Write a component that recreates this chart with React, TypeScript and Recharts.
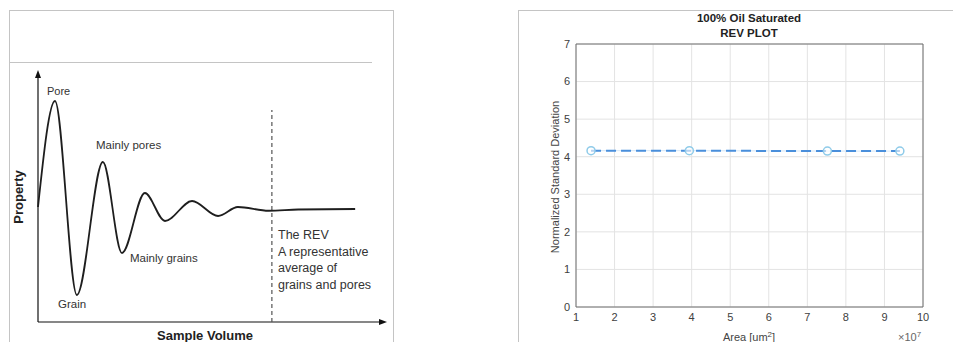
import React from "react"
import {
  LineChart,
  Line,
  XAxis,
  YAxis,
  CartesianGrid,
  ReferenceLine,
  ReferenceDot,
} from "recharts"

// left panel: schematic curve (sample volume vs property, arbitrary 0-100 units)
const SAMPLE_VOLUME = [0, 4.9, 11.2, 18.7, 24.2, 30.8, 36.6, 44.4, 51.9, 57.6, 66.5, 75, 91.4]
const PROPERTY = [46, 88.4, 10.8, 64, 27.6, 51.6, 40.4, 48.4, 42.4, 46, 44.5, 45, 45.2]
const REV_AT = 67.4

// right panel: REV plot
const AREA = [1.39, 3.94, 7.52, 9.4] // x 1e7
const NORM_STD = [4.16, 4.16, 4.15, 4.15]
const X_TICKS = [1, 2, 3, 4, 5, 6, 7, 8, 9, 10]
const Y_TICKS = [0, 1, 2, 3, 4, 5, 6, 7]

const FONT = "'Liberation Sans', Arial, sans-serif"
const TXT = "#333"
const FRAME = "#c4c4c4"
const AXIS = "#6e6e6e"

const curveData = SAMPLE_VOLUME.map((x, i) => ({ x, y: PROPERTY[i] }))
const revData = AREA.map((a, i) => ({ a, s: NORM_STD[i] }))

const ArrowUp = ({ cx, cy }: any) => (
  <path d={`M${cx},${cy - 2} L${cx - 3},${cy + 6} L${cx + 3},${cy + 6} Z`} fill="#111" />
)
const ArrowRight = ({ cx, cy }: any) => (
  <path d={`M${cx + 2},${cy} L${cx - 6},${cy - 3} L${cx - 6},${cy + 3} Z`} fill="#111" />
)

const HollowDot = ({ cx, cy }: any) => (
  <circle cx={cx} cy={cy} r={4} fill="#fff" fillOpacity={0.6} stroke="#8fcbe9" strokeWidth={1.5} />
)

const label = (text: string, left: number, top: number, extra: React.CSSProperties = {}) => (
  <div
    style={{
      position: "absolute",
      left,
      top,
      transform: "translateY(-50%)",
      fontFamily: FONT,
      fontSize: 11.5,
      color: TXT,
      whiteSpace: "nowrap",
      lineHeight: 1,
      ...extra,
    }}
  >
    {text}
  </div>
)

export default function App() {
  return (
    <div style={{ position: "absolute", left: 0, top: 0, width: 953, height: 342, background: "#fff", overflow: "hidden" }}>

      {/* Left frame */}
      <div style={{ position: "absolute", left: 9, top: 10, width: 383, height: 340, borderLeft: `1px solid ${FRAME}`, borderTop: `1px solid ${FRAME}`, borderRight: `1px solid ${FRAME}` }} />
      <div style={{ position: "absolute", left: 9, top: 62, width: 363, height: 1, background: FRAME }} />

      {/* Left schematic */}
      <div style={{ position: "absolute", left: 0, top: 0 }}>
        <LineChart width={400} height={342} data={curveData} margin={{ top: 72, left: 38, right: 15, bottom: 20 }}>
          <XAxis type="number" dataKey="x" domain={[0, 100]} hide />
          <YAxis type="number" domain={[0, 100]} hide />
          <ReferenceLine segment={[{ x: 0, y: 0 }, { x: 0, y: 98 }]} stroke="#111" strokeWidth={1.2} />
          <ReferenceLine segment={[{ x: 0, y: 0 }, { x: 98.5, y: 0 }]} stroke="#111" strokeWidth={1.2} />
          <ReferenceDot x={0} y={100} r={0} shape={<ArrowUp />} />
          <ReferenceDot x={100} y={0} r={0} shape={<ArrowRight />} />
          <ReferenceLine
            segment={[{ x: REV_AT, y: 0 }, { x: REV_AT, y: 84.8 }]}
            stroke="#555"
            strokeWidth={1.2}
            strokeDasharray="4 3"
          />
          <Line
            type="monotone"
            dataKey="y"
            stroke="#1e1e1e"
            strokeWidth={1.8}
            dot={false}
            isAnimationActive={false}
          />
        </LineChart>
      </div>

      {label("Pore", 47, 91, { fontSize: 11 })}
      {label("Mainly pores", 96, 146)}
      {label("Mainly grains", 130, 259)}
      {label("Grain", 58, 305)}
      {label("The REV", 278, 235, { fontSize: 12.5 })}
      {label("A representative", 278, 252, { fontSize: 12.5 })}
      {label("average of", 278, 268, { fontSize: 12.5 })}
      {label("grains and pores", 278, 285, { fontSize: 12.5 })}
      {label("Property", 18, 197, { fontSize: 13, fontWeight: "bold", transform: "translate(-50%, -50%) rotate(-90deg)", color: "#222" })}
      {label("Sample Volume", 205, 335, { fontSize: 13, fontWeight: "bold", transform: "translate(-50%, -50%)", color: "#222" })}

      {/* Right frame */}
      <div style={{ position: "absolute", left: 518, top: 10, width: 440, height: 340, borderLeft: `1px solid ${FRAME}`, borderTop: `1px solid ${FRAME}` }} />

      {/* Right REV plot */}
      <div style={{ position: "absolute", left: 500, top: 0 }}>
        <LineChart width={453} height={342} data={revData} margin={{ top: 44, left: 36, right: 30, bottom: 5 }}>
          <CartesianGrid stroke="#e3e3e3" horizontalValues={Y_TICKS} verticalValues={X_TICKS} />
          <XAxis
            type="number"
            dataKey="a"
            domain={[1, 10]}
            ticks={X_TICKS}
            height={30}
            stroke={AXIS}
            tickLine={false}
            tickSize={4}
            tickMargin={2}
            tick={{ fontSize: 11, fill: "#404040", fontFamily: FONT }}
            allowDataOverflow
          />
          <YAxis
            type="number"
            domain={[0, 7]}
            ticks={Y_TICKS}
            width={40}
            stroke={AXIS}
            tickLine={false}
            tickSize={4}
            tickMargin={2}
            tick={{ fontSize: 11, fill: "#404040", fontFamily: FONT }}
            allowDataOverflow
          />
          <ReferenceLine y={7} stroke={AXIS} />
          <ReferenceLine x={10} stroke={AXIS} />
          <Line
            dataKey="s"
            stroke="#d3e6f7"
            strokeWidth={1}
            dot={false}
            isAnimationActive={false}
          />
          <Line
            dataKey="s"
            stroke="#4a8fdb"
            strokeWidth={2}
            strokeDasharray="10 5"
            dot={<HollowDot />}
            isAnimationActive={false}
          />
        </LineChart>
      </div>

      {label("100% Oil Saturated", 749, 19, { fontSize: 11.5, fontWeight: "bold", transform: "translate(-50%, -50%)", color: "#222" })}
      {label("REV PLOT", 749, 34, { fontSize: 11.5, fontWeight: "bold", transform: "translate(-50%, -50%)", color: "#222" })}
      {label("Normalized Standard Deviation", 555, 177, { fontSize: 11, transform: "translate(-50%, -50%) rotate(-90deg)", color: "#444" })}
      <div style={{ position: "absolute", left: 749, top: 337, transform: "translate(-50%, -50%)", fontFamily: FONT, fontSize: 11, color: "#444", whiteSpace: "nowrap", lineHeight: 1 }}>
        Area [um<sup style={{ fontSize: 8 }}>2</sup>]
      </div>
      <div style={{ position: "absolute", left: 898, top: 337, transform: "translateY(-50%)", fontFamily: FONT, fontSize: 11, color: "#666", whiteSpace: "nowrap", lineHeight: 1 }}>
        ×10<sup style={{ fontSize: 8 }}>7</sup>
      </div>
    </div>
  )
}
